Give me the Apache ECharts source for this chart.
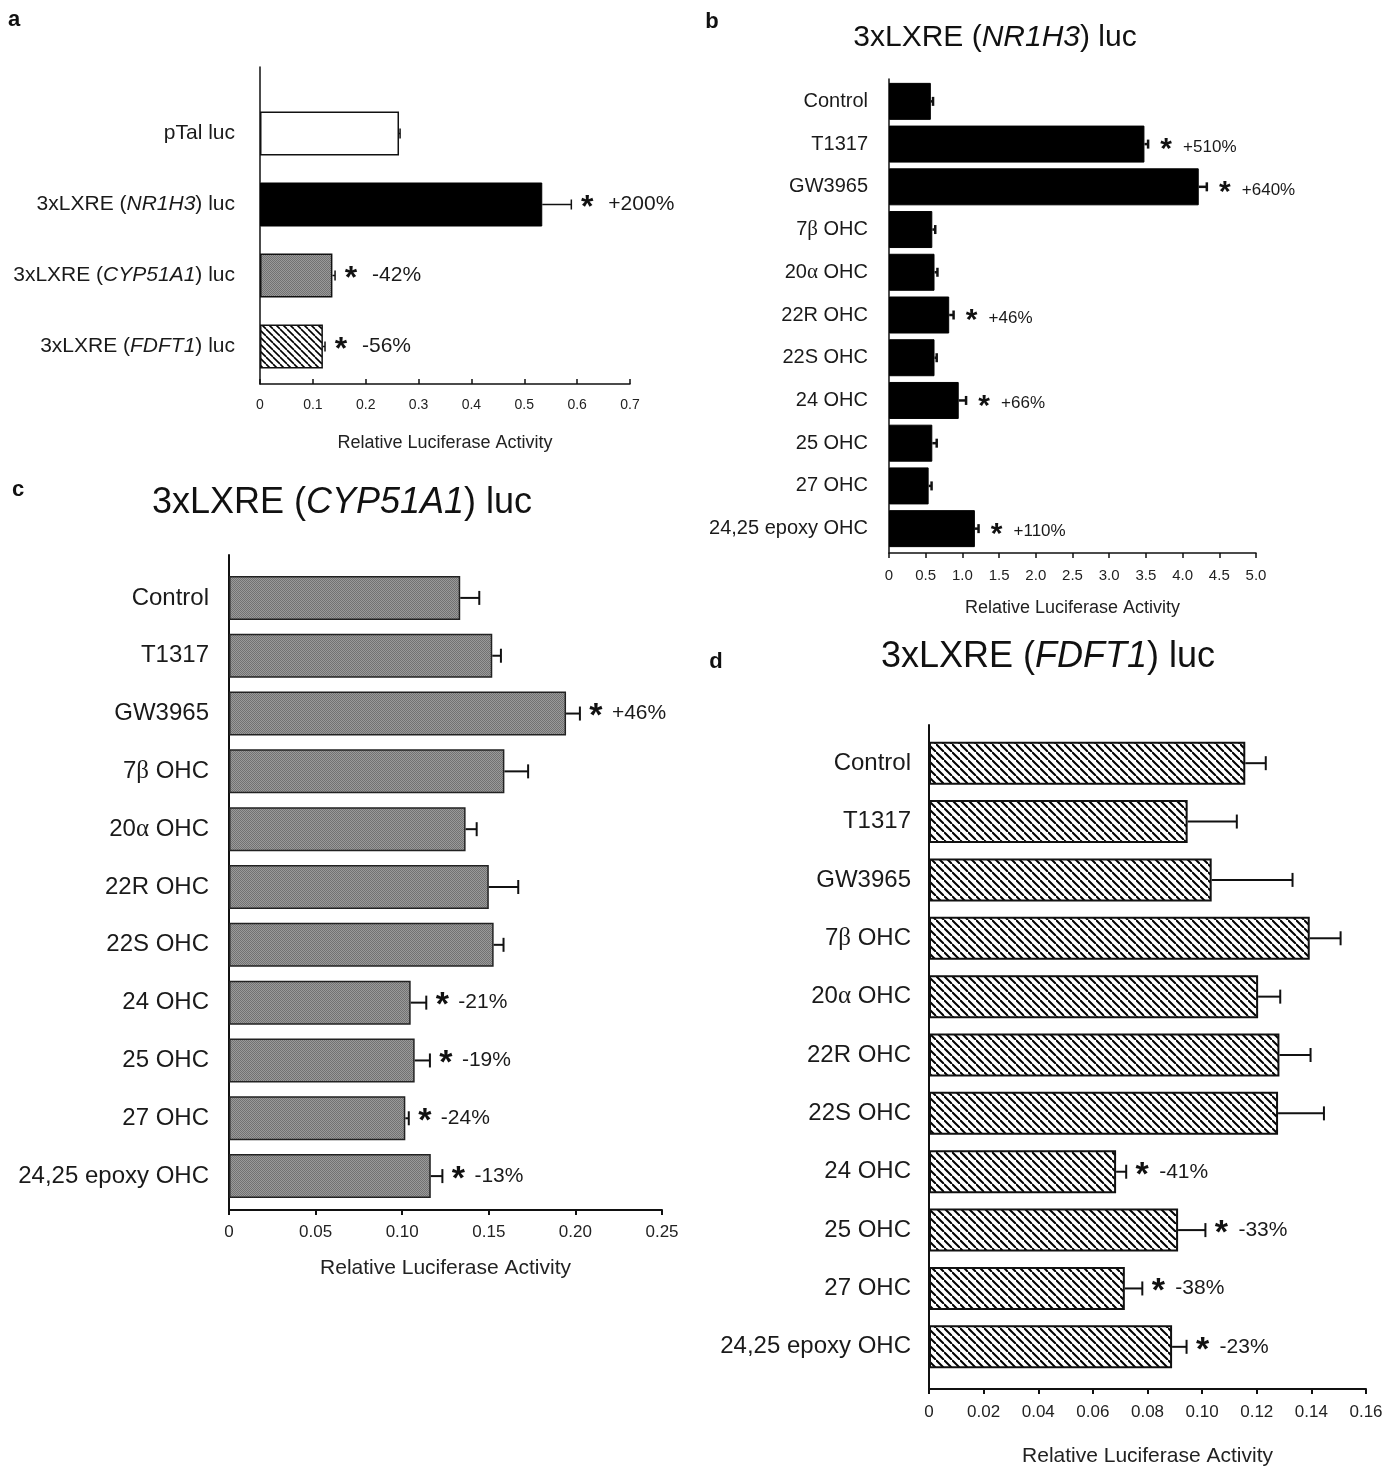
<!DOCTYPE html>
<html><head><meta charset="utf-8">
<script src="https://cdn.jsdelivr.net/npm/echarts@6/dist/echarts.min.js"></script>
<style>html,body{margin:0;padding:0;background:#fff}#c{width:1383px;height:1467px}</style>
</head><body><div id="c"></div>
<script>
// ---------------- DATA ----------------
const aCategories = ['pTal luc', '3xLXRE (NR1H3) luc', '3xLXRE (CYP51A1) luc', '3xLXRE (FDFT1) luc'];
const aValues = [0.263, 0.534, 0.137, 0.119];
const aErrors = [0.002, 0.055, 0.005, 0.004];
const aNotes = ['', '+200%', '-42%', '-56%'];
const aTicks = ['0', '0.1', '0.2', '0.3', '0.4', '0.5', '0.6', '0.7'];

const treatments = ['Control', 'T1317', 'GW3965', '7β OHC', '20α OHC', '22R OHC', '22S OHC', '24 OHC', '25 OHC', '27 OHC', '24,25 epoxy OHC'];

const bValues = [0.57, 3.48, 4.22, 0.59, 0.62, 0.82, 0.62, 0.95, 0.59, 0.54, 1.17];
const bErrors = [0.03, 0.05, 0.11, 0.04, 0.04, 0.06, 0.03, 0.10, 0.06, 0.04, 0.05];
const bNotes = ['', '+510%', '+640%', '', '', '+46%', '', '+66%', '', '', '+110%'];
const bTicks = ['0', '0.5', '1.0', '1.5', '2.0', '2.5', '3.0', '3.5', '4.0', '4.5', '5.0'];

const cValues = [0.1335, 0.152, 0.1946, 0.159, 0.1366, 0.150, 0.1528, 0.1049, 0.1072, 0.1018, 0.1165];
const cErrors = [0.011, 0.005, 0.008, 0.0137, 0.0064, 0.017, 0.0057, 0.009, 0.0088, 0.002, 0.0067];
const cNotes = ['', '', '+46%', '', '', '', '', '-21%', '-19%', '-24%', '-13%'];
const cTicks = ['0', '0.05', '0.10', '0.15', '0.20', '0.25'];

const dValues = [0.1158, 0.0947, 0.1035, 0.1394, 0.1205, 0.1283, 0.1278, 0.0685, 0.0912, 0.0717, 0.089];
const dErrors = [0.0075, 0.018, 0.0296, 0.0113, 0.0081, 0.0114, 0.0168, 0.0037, 0.01, 0.0064, 0.0053];
const dNotes = ['', '', '', '', '', '', '', '-41%', '-33%', '-38%', '-23%'];
const dTicks = ['0', '0.02', '0.04', '0.06', '0.08', '0.10', '0.12', '0.14', '0.16'];

const xTitle = 'Relative Luciferase Activity';
const titleB = '3xLXRE ({i|NR1H3}) luc';
const titleC = '3xLXRE ({i|CYP51A1}) luc';
const titleD = '3xLXRE ({i|FDFT1}) luc';

// ---------------- STYLE ----------------
const FONT = 'Liberation Sans, Arial, Helvetica, sans-serif';
const INK = '#111';

function hatch(period, lw) {
  const c = document.createElement('canvas');
  c.width = period; c.height = period;
  const g = c.getContext('2d');
  g.fillStyle = '#fff'; g.fillRect(0, 0, period, period);
  g.strokeStyle = '#000'; g.lineWidth = lw;
  for (let k = -1; k <= 1; k++) {
    g.beginPath(); g.moveTo(k * period, 0); g.lineTo(k * period + period, period); g.stroke();
  }
  return { image: c, repeat: 'repeat' };
}
function grayDots() {
  const c = document.createElement('canvas');
  c.width = 2; c.height = 2;
  const g = c.getContext('2d');
  g.fillStyle = '#9a9a9a'; g.fillRect(0, 0, 2, 2);
  g.fillStyle = '#727272'; g.fillRect(0, 0, 1, 1); g.fillRect(1, 1, 1, 1);
  return { image: c, repeat: 'repeat' };
}

function richLabel(s) {
  return s.replace(/(NR1H3|CYP51A1|FDFT1)/g, '{i|$1}').replace(/([αβ])/g, '{g|$1}');
}

const grids = [], xAxes = [], yAxes = [], series = [];

function addPanel(p) {
  const fg = grids.length;
  grids.push({ left: p.left, top: p.frameTop, width: p.width, height: p.frameH, outerBoundsMode: 'none', containLabel: false });
  const bg = grids.length;
  grids.push({ left: p.left, top: p.barTop, width: p.width, height: p.barH, outerBoundsMode: 'none', containLabel: false });

  // frame axes
  xAxes.push({
    gridIndex: fg, type: 'value', min: 0, max: p.max, interval: p.interval,
    axisLine: { show: true, onZero: false, lineStyle: { color: INK, width: p.axisLW } },
    axisTick: { show: true, inside: !!p.tickInside, length: 5, lineStyle: { color: INK, width: p.axisLW } },
    splitLine: { show: false },
    axisLabel: {
      margin: p.tickMargin, fontSize: p.tickSize, fontFamily: FONT, color: '#222',
      formatter: v => p.ticks[Math.round(v / p.interval)]
    },
    name: xTitle, nameLocation: 'middle', nameGap: p.nameGap,
    nameTextStyle: { fontSize: p.nameSize, fontFamily: FONT, color: '#222', verticalAlign: 'top' }
  });
  yAxes.push({
    gridIndex: fg, type: 'value', min: 0, max: 1,
    axisLine: { show: true, onZero: false, lineStyle: { color: INK, width: p.axisLW } },
    axisTick: { show: false }, axisLabel: { show: false }, splitLine: { show: false }
  });
  // bar axes
  const bx = xAxes.length;
  xAxes.push({ gridIndex: bg, type: 'value', min: 0, max: p.max, show: false, splitLine: { show: false } });
  const by = yAxes.length;
  yAxes.push({
    gridIndex: bg, type: 'category', inverse: true, data: p.categories,
    axisLine: { show: false }, axisTick: { show: false }, splitLine: { show: false },
    axisLabel: {
      margin: p.labelMargin, fontSize: p.labelSize, fontFamily: FONT, color: '#1a1a1a',
      formatter: v => richLabel(v),
      rich: {
        i: { fontSize: p.labelSize, fontFamily: FONT, fontStyle: 'italic', color: '#1a1a1a' },
        g: { fontSize: p.labelSize + 1, fontFamily: 'Liberation Serif, DejaVu Serif, serif', color: '#1a1a1a' }
      }
    }
  });

  series.push({
    type: 'bar', xAxisIndex: bx, yAxisIndex: by, barWidth: p.barWidth,
    data: p.values.map((v, i) => ({ value: v, itemStyle: p.itemStyles ? p.itemStyles[i] : p.itemStyle })),
    itemStyle: p.itemStyle, silent: true, animation: false, z: 3
  });

  series.push({
    type: 'custom', xAxisIndex: bx, yAxisIndex: by, animation: false, silent: true, z: 4,
    encode: { x: 1, y: 0 },
    data: p.values.map((v, i) => [i, v, p.errors[i]]),
    renderItem: (params, api) => {
      const idx = api.value(0), v = api.value(1), e = api.value(2);
      const p0 = api.coord([v, idx]);
      const p1 = api.coord([v + e, idx]);
      const ch = [
        { type: 'line', shape: { x1: p0[0], y1: p0[1], x2: p1[0], y2: p1[1] }, style: { stroke: INK, lineWidth: p.errLW } },
        { type: 'line', shape: { x1: p1[0], y1: p1[1] - p.capH / 2, x2: p1[0], y2: p1[1] + p.capH / 2 }, style: { stroke: INK, lineWidth: p.errLW } }
      ];
      const note = p.notes[idx];
      if (note) {
        ch.push({ type: 'text', x: p1[0] + p.starDx, y: p1[1] + p.noteDy + p.starSize * 0.1,
          style: { text: '*', fontSize: p.starSize, fontWeight: 'bold', fontFamily: FONT, fill: INK, align: 'center', verticalAlign: 'middle' } });
        ch.push({ type: 'text', x: p1[0] + p.textDx, y: p1[1] + p.noteDy,
          style: { text: note, fontSize: p.noteSize, fontFamily: FONT, fill: '#1a1a1a', align: 'left', verticalAlign: 'middle' } });
      }
      return { type: 'group', children: ch };
    }
  });
}

addPanel({
  categories: aCategories, values: aValues, errors: aErrors, notes: aNotes, ticks: aTicks,
  left: 260, width: 370, frameTop: 67, frameH: 317, barTop: 98, barH: 284,
  max: 0.7, interval: 0.1, barWidth: 44, labelSize: 21, labelMargin: 25,
  tickSize: 14, tickMargin: 14, nameSize: 18, nameGap: 50, axisLW: 1.5, tickInside: true,
  capH: 10, errLW: 1.5, starDx: 16, textDx: 37, starSize: 32, noteSize: 21, noteDy: 0,
  itemStyles: [
    { color: '#fff', borderColor: INK, borderWidth: 1.5 },
    { color: '#000', borderColor: '#000', borderWidth: 1 },
    { color: grayDots(), borderColor: INK, borderWidth: 1.5 },
    { color: hatch(7, 1.6), borderColor: INK, borderWidth: 1.5 }
  ]
});
addPanel({
  categories: treatments, values: bValues, errors: bErrors, notes: bNotes, ticks: bTicks,
  left: 889, width: 367, frameTop: 79, frameH: 474, barTop: 80, barH: 470,
  max: 5, interval: 0.5, barWidth: 37, labelSize: 20, labelMargin: 21,
  tickSize: 15, tickMargin: 15, nameSize: 18, nameGap: 46, axisLW: 1.5,
  capH: 9, errLW: 2.5, starDx: 18, textDx: 35, starSize: 30, noteSize: 17, noteDy: 3,
  itemStyle: { color: '#000', borderColor: '#000', borderWidth: 1 }
});
addPanel({
  categories: treatments, values: cValues, errors: cErrors, notes: cNotes, ticks: cTicks,
  left: 229, width: 433, frameTop: 555, frameH: 655, barTop: 569, barH: 636,
  max: 0.25, interval: 0.05, barWidth: 44, labelSize: 24, labelMargin: 20,
  tickSize: 17, tickMargin: 14, nameSize: 21, nameGap: 48, axisLW: 2,
  capH: 14, errLW: 2, starDx: 16, textDx: 32, starSize: 34, noteSize: 21, noteDy: 0,
  itemStyle: { color: grayDots(), borderColor: '#222', borderWidth: 1.5 }
});
addPanel({
  categories: treatments, values: dValues, errors: dErrors, notes: dNotes, ticks: dTicks,
  left: 929, width: 437, frameTop: 725, frameH: 664, barTop: 734, barH: 642,
  max: 0.16, interval: 0.02, barWidth: 43, labelSize: 24, labelMargin: 18,
  tickSize: 17, tickMargin: 15, nameSize: 21, nameGap: 57, axisLW: 2,
  capH: 14, errLW: 2, starDx: 16, textDx: 33, starSize: 34, noteSize: 21, noteDy: 0,
  itemStyle: { color: hatch(8.5, 2), borderColor: INK, borderWidth: 2 }
});

function txt(x, y, text, size, opts) {
  opts = opts || {};
  return {
    type: 'text', x: x, y: y, silent: true,
    style: Object.assign({
      text: text, fontSize: size, fontFamily: FONT, fill: '#111',
      align: 'center', verticalAlign: 'middle', textAlign: 'center', textVerticalAlign: 'middle',
      rich: { i: { fontSize: size, fontFamily: FONT, fontStyle: 'italic', fill: '#111', color: '#111' } }
    }, opts)
  };
}

const graphics = [
  txt(14, 20, 'a', 22, { fontWeight: 'bold' }),
  txt(712, 22, 'b', 22, { fontWeight: 'bold' }),
  txt(18, 490, 'c', 22, { fontWeight: 'bold' }),
  txt(716, 662, 'd', 22, { fontWeight: 'bold' }),
  txt(995, 38, titleB, 30),
  txt(342, 503, titleC, 36),
  txt(1048, 657, titleD, 36)
];

const chart = echarts.init(document.getElementById('c'), null, { renderer: 'canvas' });
chart.setOption({
  animation: false,
  backgroundColor: '#fff',
  grid: grids, xAxis: xAxes, yAxis: yAxes, series: series,
  graphic: { elements: graphics }
});
</script>
</body></html>
